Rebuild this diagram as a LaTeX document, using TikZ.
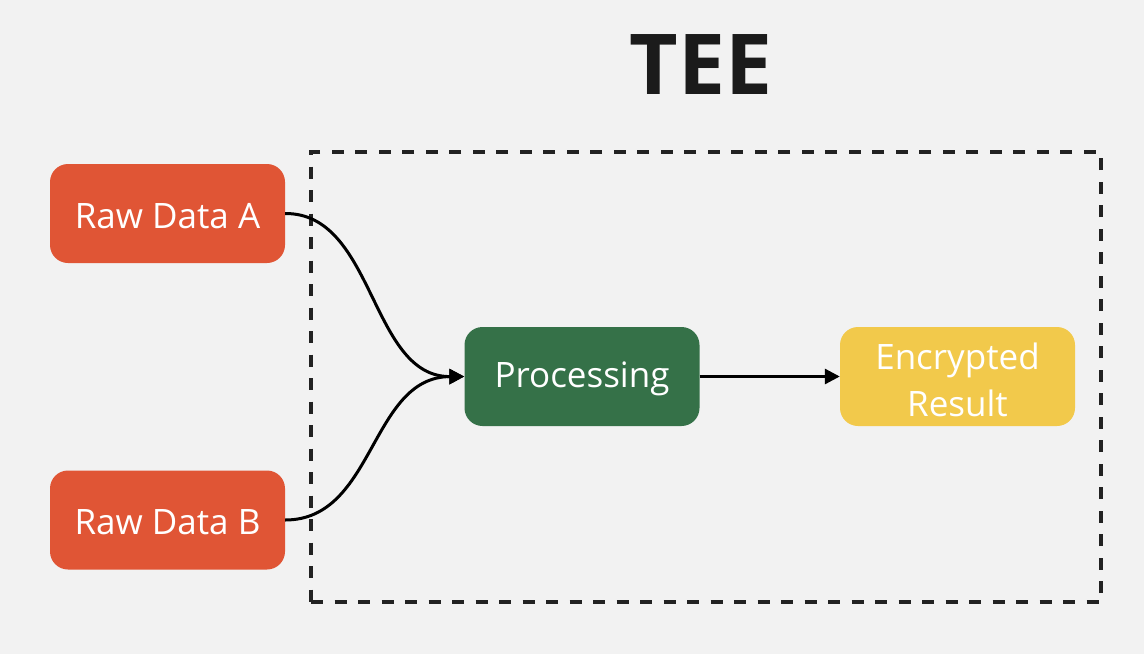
\documentclass[tikz,border=0pt]{standalone}
\usepackage{fontspec}
\setmainfont{Open Sans}
\usetikzlibrary{arrows.meta}
\definecolor{bg}{HTML}{F2F2F2}
\definecolor{rawc}{HTML}{E05535}
\definecolor{procc}{HTML}{357148}
\definecolor{encc}{HTML}{F2C94B}
\definecolor{titlec}{HTML}{1B1B1B}
\definecolor{dashc}{HTML}{222222}
\tikzset{
  box/.style={rounded corners=18pt, minimum width=235pt, minimum height=99pt, text=white, font=\fontsize{35}{47}\selectfont, align=center, inner sep=0pt},
  conn/.style={line width=3pt, -{Triangle[length=15pt,width=15pt]}},
}
\begin{document}
\begin{tikzpicture}[x=1pt,y=-1pt]
\fill[bg] (0,0) rectangle (1144,654);
\useasboundingbox (0,0) rectangle (1144,654);
\node[font=\fontsize{84}{90}\selectfont\bfseries, text=titlec] (title) at (701,65) {TEE};
\node[draw=dashc, line width=3.2pt, dash pattern=on 12pt off 11.5pt, minimum width=790pt, minimum height=450pt, inner sep=0pt] (tee) at (706,377) {};
\node[box, fill=rawc] (a) at (167.5,213.5) {};
\node[text=white, font=\fontsize{35}{47}\selectfont] (at) at (167.5,216) {Raw Data A};
\node[box, fill=rawc] (b) at (167.5,520) {};
\node[text=white, font=\fontsize{35}{47}\selectfont] (bt) at (167.5,522.5) {Raw Data B};
\node[box, fill=procc] (p) at (582,376.5) {};
\node[text=white, font=\fontsize{35}{47}\selectfont] (pt) at (582,379) {Processing};
\node[box, fill=encc] (e) at (957.5,376.5) {};
\node[text=white, font=\fontsize{35}{47}\selectfont, align=center] (et) at (957.5,380) {Encrypted\\Result};
\draw[conn] (a.east) .. controls (375,213) and (370,377) .. (p.west);
\draw[conn] (b.east) .. controls (375,520) and (370,377) .. (p.west);
\draw[conn] (p.east) -- (e.west);
\end{tikzpicture}
\end{document}
